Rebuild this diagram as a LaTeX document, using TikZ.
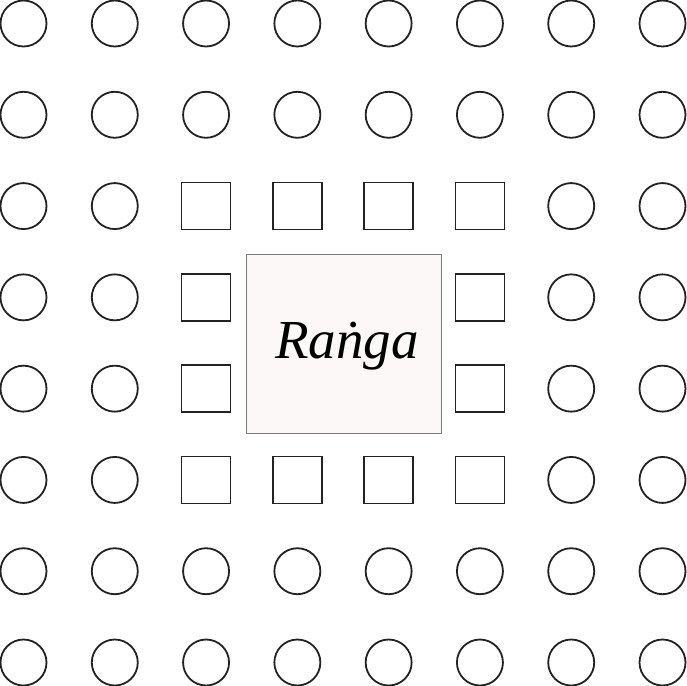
\documentclass[tikz,border=0pt]{standalone}
\usepackage{fontspec}
\newfontfamily\rangafont{Liberation Serif}
\definecolor{boxfill}{HTML}{FDF8F8}
\definecolor{boxline}{HTML}{7A7A7A}
\definecolor{ink}{HTML}{222222}
\begin{document}
\begin{tikzpicture}[x=91.3pt,y=-91.3pt,
  seat/.style={circle,draw=ink,line width=1.8pt,minimum size=46pt,inner sep=0pt},
  stool/.style={rectangle,draw=ink,line width=1.8pt,minimum width=49pt,minimum height=47pt,inner sep=0pt}]
\useasboundingbox (-0.2574,-0.2574) rectangle (7.2574,7.2574);
% outer rings of circles
\foreach \j in {0,1,6,7}
  \foreach \i in {0,...,7}
    \node[seat] (c\i\j) at (\i,\j) {};
\foreach \j in {2,...,5}
  \foreach \i in {0,1,6,7}
    \node[seat] (c\i\j) at (\i,\j) {};
% inner ring of squares
\foreach \i/\j in {2/2,3/2,4/2,5/2,2/3,5/3,2/4,5/4,2/5,3/5,4/5,5/5}
  \node[stool] (s\i\j) at (\i,\j) {};
% centre
\node[draw=boxline,fill=boxfill,line width=1pt,minimum width=195pt,minimum height=179pt,inner sep=0pt] (ranga) at (3.51,3.51) {};
\node at ([xshift=3pt,yshift=-2pt]ranga.center) {\rangafont\fontsize{55}{64}\selectfont\itshape Raṅga};
\end{tikzpicture}
\end{document}
